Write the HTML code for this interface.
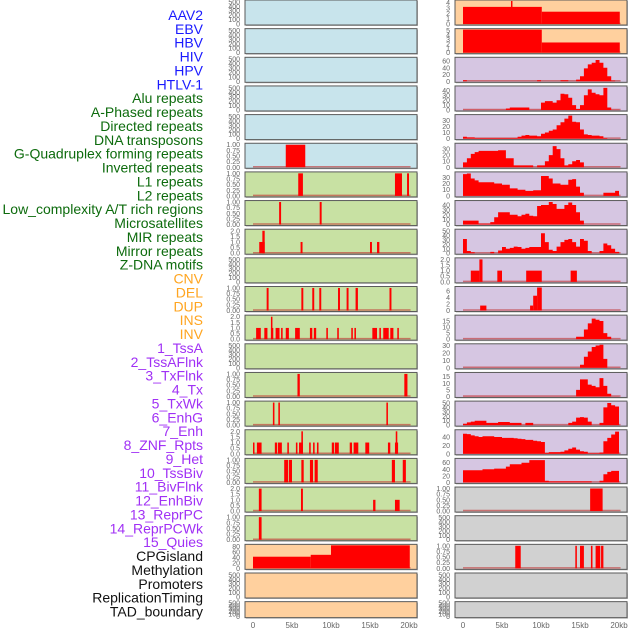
<!DOCTYPE html>
<html><head><meta charset="utf-8"><style>
html,body{margin:0;padding:0;background:#fff;}
svg{display:block;font-family:"Liberation Sans",sans-serif;}
</style></head><body>
<svg id="chart" width="630" height="630" viewBox="0 0 630 630"></svg>
<script>
// ---- data ----
const trackLabels=["AAV2","EBV","HBV","HIV","HPV","HTLV-1","Alu repeats","A-Phased repeats","Directed repeats","DNA transposons","G-Quadruplex forming repeats","Inverted repeats","L1 repeats","L2 repeats","Low_complexity A/T rich regions","Microsatellites","MIR repeats","Mirror repeats","Z-DNA motifs","CNV","DEL","DUP","INS","INV","1_TssA","2_TssAFlnk","3_TxFlnk","4_Tx","5_TxWk","6_EnhG","7_Enh","8_ZNF_Rpts","9_Het","10_TssBiv","11_BivFlnk","12_EnhBiv","13_ReprPC","14_ReprPCWk","15_Quies","CPGisland","Methylation","Promoters","ReplicationTiming","TAD_boundary"];
const labelGroups=["virus","virus","virus","virus","virus","virus","repeat","repeat","repeat","repeat","repeat","repeat","repeat","repeat","repeat","repeat","repeat","repeat","repeat","sv","sv","sv","sv","sv","chrom","chrom","chrom","chrom","chrom","chrom","chrom","chrom","chrom","chrom","chrom","chrom","chrom","chrom","chrom","other","other","other","other","other"];
const xTickValues=[0,5,10,15,20];
const xTickLabels=["0","5kb","10kb","15kb","20kb"];
// left column segment tracks [startKb,endKb,value]
const L5=[[4.2,6.7,1]];
const L6=[[5.8,6.4,1],[18.2,19.1,1],[19.75,20,1]];
const L7=[[3.35,3.6,1],[8.55,8.8,1]];
const L8=[[0.8,1.5,1],[1.2,1.5,2],[6.1,6.35,1],[15.0,15.25,1],[15.9,16.2,1]];
const L10=[[1.75,2.0,1],[6.2,6.45,1],[7.6,7.85,1],[8.5,8.75,1],[10.9,11.15,1],[12.0,12.25,1],[13.15,13.45,1],[17.5,17.75,1]];
const L11=[[0.4,1.0,1],[1.45,1.85,1],[2.3,2.6,1],[2.3,2.45,2],[2.9,3.4,1],[3.6,3.8,1],[4.2,4.6,1],[5.4,6.0,1],[7.3,7.6,1],[7.8,8.1,1],[9.4,9.6,1],[10.8,11.0,1],[12.6,12.8,1],[13.0,13.2,1],[15.3,15.9,1],[16.2,16.4,1],[16.7,17.4,1],[17.6,18.0,1],[18.5,18.7,1]];
const L13=[[5.7,6.0,1],[19.4,19.8,1]];
const L14=[[2.55,2.75,1],[3.25,3.45,1],[17.1,17.3,1]];
const L15=[[0,0.15,1],[0.5,1.1,1],[2.8,3.1,1],[3.2,3.7,1],[4.4,4.6,1],[5.5,5.7,1],[5.9,6.4,1],[6.2,6.4,2],[7.2,7.4,1],[7.7,7.9,1],[8.2,8.4,1],[10.1,10.4,1],[10.5,11.0,1],[12.4,12.7,1],[12.9,13.5,1],[14.4,14.9,1],[17.3,17.6,1],[18.2,18.6,1],[18.3,18.5,2]];
const L16=[[4.0,4.5,1],[4.6,5.0,1],[6.2,6.5,1],[7.3,7.7,1],[7.9,8.3,1],[17.8,18.2,1],[19.2,19.6,1]];
const L17=[[0.75,1.1,2],[6.15,6.4,2],[15.4,15.7,1],[18.2,18.8,1]];
const L18=[[0.75,1.1,1]];
const L19=[[0,7.4,43],[7.4,10,50],[10,20.1,85]];
// right column
const R0=[[0,10.1,3.2],[10.1,20.1,2.3],[6.15,6.3,4.5]];
const R1=[[0,10.1,5.2],[10.1,20.1,2.3]];
const R2=[3,0,0,0,0,0,0,0,0,0,0,0,0,0,0,0,0,0,0,3,0,0,0,0,0,3,3,0,0,5,15,38,50,55,63,55,40,15,2,0];
const R3=[0,0,0,0,0,0,0,0,0,0,0,3,5,5,5,5,5,0,0,0,15,18,18,15,20,33,32,25,10,2,10,30,42,35,32,30,45,5,0,0];
const R4=[3,2,2,1,1,1,1,1,1,1,1,1,1,1,3,5,6,5,5,4,8,10,13,15,22,27,33,38,28,27,15,7,6,5,5,4,1,0,0,0];
const R5=[8,15,22,25,27,27,27,27,27,28,28,15,15,3,3,3,3,3,0,3,3,10,20,35,30,15,3,5,10,12,8,0,0,0,0,0,0,0,0,0];
const R6=[35,36,28,25,22,22,22,22,20,20,18,18,12,12,10,10,8,8,9,9,32,32,28,20,20,18,18,26,27,15,5,0,0,0,0,0,5,5,5,8];
const R7=[8,8,8,8,2,2,2,5,15,25,25,25,20,20,17,20,22,18,17,38,40,40,46,42,32,32,40,45,40,25,8,0,0,0,0,0,0,0,0,0];
const R8=[32,5,2,0,0,0,0,3,0,6,14,10,12,15,14,10,12,14,14,14,45,25,8,5,15,25,30,32,25,15,32,28,5,0,0,5,22,18,10,3];
const R9=[[1.0,2.1,1],[2.1,2.5,2],[4.4,5.0,1],[8.1,10.1,1],[13.8,14.6,1]];
const R10=[[2.2,3.0,1.5],[8.6,9.0,1.5],[9.0,9.5,4.5],[9.5,10.1,7]];
const R11=[0,0,0,0,0,0,0,0,0,0,0,0,0,0,0,0,0,0,0,0,0,0,0,0,0,0,0,0,0,2,2,8,13,17,16,15,5,2,0,0];
const R12=[0,0,0,0,0,0,0,0,0,0,0,0,0,0,0,0,0,0,0,0,0,0,0,0,0,0,0,0,0,0,4,15,22,28,30,31,12,0,0,0];
const R13=[0,0,0,0,0,0,0,0,0,0,0,0,0,0,0,0,0,0,0,0,0,0,0,0,0,0,0,0,0,5,13,13,9,8,7,14,8,2,0,0];
const R14=[3,6,8,10,10,10,5,5,5,7,7,7,5,5,5,0,5,5,0,0,0,0,0,0,0,0,0,5,8,17,18,17,8,0,0,5,40,50,45,42];
const R15=[48,47,44,42,40,42,42,42,40,40,38,38,38,37,36,35,33,33,31,30,28,2,4,4,4,5,8,12,15,10,6,5,1,1,1,3,30,38,46,53];
const R16=[37,37,37,37,37,40,40,40,42,42,42,48,55,55,55,60,60,68,68,68,68,5,3,3,3,3,3,3,3,3,3,3,3,0,0,5,25,32,35,35];
const R17=[[16.3,17.9,1]];
const R19=[[6.7,7.4,1],[14.4,14.6,1],[15.0,15.5,1],[16.4,16.6,1],[17.0,17.6,1],[17.7,18.0,1]];

const EMPTY={ticks:[0,100,200,300,400,500],max:520};
const T1={ticks:[0,0.25,0.5,0.75,1],max:1.02,fmt:2};
const T2={ticks:[0,0.5,1,1.5,2],max:2.05,fmt:1};
const leftPanels=[
 {bg:"blue",...EMPTY},{bg:"blue",...EMPTY},{bg:"blue",...EMPTY},{bg:"blue",...EMPTY},{bg:"blue",...EMPTY},
 {bg:"blue",...T1,segs:L5},{bg:"green",...T1,segs:L6},{bg:"green",...T1,segs:L7},{bg:"green",...T2,segs:L8},
 {bg:"green",...EMPTY},{bg:"green",...T1,segs:L10},{bg:"green",...T2,segs:L11},{bg:"green",...EMPTY},
 {bg:"green",...T1,segs:L13},{bg:"green",...T1,segs:L14},{bg:"green",...T2,segs:L15},{bg:"green",...T1,segs:L16},
 {bg:"green",...T2,segs:L17},{bg:"green",...T1,segs:L18},{bg:"peach",ticks:[0,20,40,60,80],max:85,segs:L19},
 {bg:"peach",...EMPTY},{bg:"peach",...EMPTY}];
const rightPanels=[
 {bg:"peach",ticks:[0,1,2,3,4],max:4.3,segs:R0},{bg:"peach",ticks:[0,1,2,3,4,5],max:5.2,segs:R1},
 {bg:"lav",ticks:[0,20,40,60],max:68,bins:R2},{bg:"lav",ticks:[0,10,20,30,40],max:47,bins:R3},
 {bg:"lav",ticks:[0,10,20,30],max:38,bins:R4},{bg:"lav",ticks:[0,10,20,30],max:38,bins:R5},
 {bg:"lav",ticks:[0,10,20,30],max:37,bins:R6},{bg:"lav",ticks:[0,10,20,30,40],max:47,bins:R7},
 {bg:"lav",ticks:[0,10,20,30,40,50],max:52,bins:R8},{bg:"lav",...T2,segs:R9},
 {bg:"lav",ticks:[0,2,4,6],max:7,segs:R10},{bg:"lav",ticks:[0,5,10,15],max:19,bins:R11},
 {bg:"lav",ticks:[0,10,20,30],max:31,bins:R12},{bg:"lav",ticks:[0,5,10,15],max:17.5,bins:R13},
 {bg:"lav",ticks:[0,10,20,30,40,50],max:52,bins:R14},{bg:"lav",ticks:[0,20,40],max:55,bins:R15},
 {bg:"lav",ticks:[0,20,40,60],max:70,bins:R16},{bg:"gray",...T1,segs:R17},{bg:"gray",...EMPTY},
 {bg:"gray",...T1,segs:R19},{bg:"gray",...EMPTY},{bg:"gray",...EMPTY}];

// ---- drawing ----
const NS="http://www.w3.org/2000/svg";
const svg=document.getElementById("chart");
const BG={blue:"#c8e4ec",green:"#c8e1a3",peach:"#ffd09e",lav:"#d6c6e2",gray:"#d1d1d1"};
const LC={virus:"#1a1aff",repeat:"#0d6b0d",sv:"#ffa520",chrom:"#a030f5",other:"#111"};
function mk(tag,attrs,parent){const e=document.createElementNS(NS,tag);for(const k in attrs)e.setAttribute(k,attrs[k]);(parent||svg).appendChild(e);return e;}

// labels
const labelTop=15,labelStep=(611.5-15)/(trackLabels.length-1-9);
const shownLabels=trackLabels.filter(l=>!["HTLV-1x"].includes(l));
</script>
<script>
// Recompute label list exactly as the picture (35 entries)
const pictureLabels=["AAV2","EBV","HBV","HIV","HPV","HTLV-1","Alu repeats","A-Phased repeats","Directed repeats","DNA transposons","G-Quadruplex forming repeats","Inverted repeats","L1 repeats","L2 repeats","Low_complexity A/T rich regions","Microsatellites","MIR repeats","Mirror repeats","Z-DNA motifs","CNV","DEL","DUP","INS","INV","1_TssA","2_TssAFlnk","3_TxFlnk","4_Tx","5_TxWk","6_EnhG","7_Enh","8_ZNF_Rpts","9_Het","10_TssBiv","11_BivFlnk","12_EnhBiv","13_ReprPC","14_ReprPCWk","15_Quies","CPGisland","Methylation","Promoters","ReplicationTiming","TAD_boundary"];
</script>
<script>
(function(){
const lbls=trackLabels;
const step=(611.5-15)/(lbls.length-1);
lbls.forEach((t,i)=>{
  const e=mk("text",{x:203,y:(15+i*step+5).toFixed(1),"text-anchor":"end","font-size":"14",fill:LC[labelGroups[i]]});
  e.textContent=t;
  
  
});
function fmt(v,p){return p?v.toFixed(p):String(v);}
function drawPanel(p,i,x0,col){
  const top=i*28.65, h=(i===21?16:25), w=172;
  const g=mk("g",{});
  
  
  mk("rect",{x:x0+1,y:top+1,width:w,height:h,fill:"#bbb"},g);
  mk("rect",{x:x0,y:top,width:w,height:h,fill:BG[p.bg],stroke:"#5a5a5a","stroke-width":1},g);
  const sx=kb=>x0+8+kb*7.8;
  const y0=top+h-1, ih=h-2;
  const sy=v=>y0-Math.min(v,p.max)/p.max*ih;
  p.ticks.forEach(t=>{
    const e=mk("text",{x:x0-5,y:(sy(t)+2.5).toFixed(1),"text-anchor":"end","font-size":"7",fill:"#666"},g);
    e.textContent=fmt(t,p.fmt);
    
    
  });
  if(p.segs||p.bins){
    const bl=mk("line",{x1:sx(0),x2:sx(20.2),y1:y0-0.5,y2:y0-0.5,stroke:"#c03030","stroke-opacity":0.6,"stroke-width":1.5},g);
    
    
  }
  if(p.segs){
    p.segs.forEach(s=>{
      const r=mk("rect",{x:sx(s[0]),y:sy(s[2]),width:Math.max(1.5,sx(s[1])-sx(s[0])),height:y0-sy(s[2]),fill:"#ff0000"},g);
      
      
    });
  }
  if(p.bins){
    let d="M"+sx(0)+","+y0;
    p.bins.forEach((v,k)=>{d+=" L"+sx(k*0.5).toFixed(1)+","+sy(v).toFixed(1)+" L"+sx(k*0.5+0.5).toFixed(1)+","+sy(v).toFixed(1);});
    d+=" L"+sx(20)+","+y0+" Z";
    const a=mk("path",{d:d,fill:"#ff0000"},g);
    
    
  }
  if(i===21){
    xTickValues.forEach((v,k)=>{
      const e=mk("text",{x:sx(v),y:628,"text-anchor":"middle","font-size":"8",fill:"#666"});
      e.textContent=xTickLabels[k];
      
      
    });
  }
}
leftPanels.forEach((p,i)=>drawPanel(p,i,245,"left"));
rightPanels.forEach((p,i)=>drawPanel(p,i,455,"right"));
})();
</script>
</body></html>
